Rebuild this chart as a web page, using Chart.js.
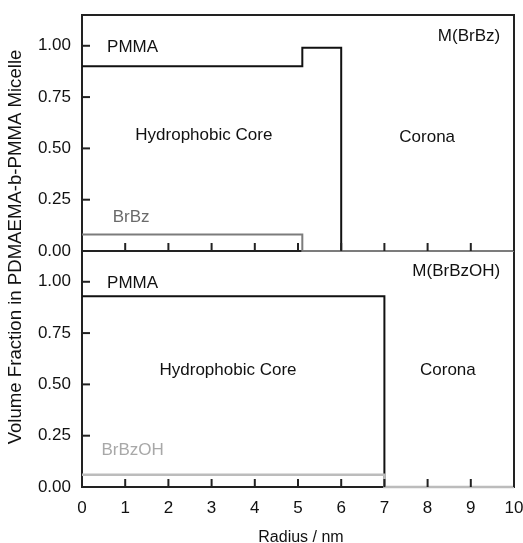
<!DOCTYPE html>
<html><head><meta charset="utf-8">
<script src="https://cdn.jsdelivr.net/npm/chart.js@4/dist/chart.umd.min.js"></script>
<style>html,body{margin:0;padding:0;background:#fff;}canvas{display:block;}</style>
</head><body>
<canvas id="c" width="523" height="543"></canvas>
<script>
// ---- data ----
const xTicks = [0, 1, 2, 3, 4, 5, 6, 7, 8, 9, 10];
const yTicks = [0, 0.25, 0.5, 0.75, 1.0];
// Top panel: M(BrBz)
const pmmaTopR = [0, 5.1, 6.0];
const pmmaTopV = [0.90, 0.99, 0];
const brbzR = [0, 5.1, 10];
const brbzV = [0.08, 0, 0];
// Bottom panel: M(BrBzOH)
const pmmaBotR = [0, 7.0];
const pmmaBotV = [0.93, 0];
const brbzohR = [0, 7.0, 10];
const brbzohV = [0.06, 0, 0];
// text labels (data coordinates, cap-centre)
const notesTop = [
  {text: 'PMMA', x: 0.58, y: 1.0, align: 'left', color: '#111'},
  {text: 'BrBz', x: 0.71, y: 0.17, align: 'left', color: '#6a6a6a'},
  {text: 'Hydrophobic Core', x: 2.82, y: 0.57, align: 'center', color: '#111'},
  {text: 'Corona', x: 7.99, y: 0.56, align: 'center', color: '#111'},
  {text: 'M(BrBz)', x: 9.68, y: 1.055, align: 'right', color: '#111'}
];
const notesBot = [
  {text: 'PMMA', x: 0.58, y: 1.0, align: 'left', color: '#111'},
  {text: 'BrBzOH', x: 0.45, y: 0.184, align: 'left', color: '#a8a8a8'},
  {text: 'Hydrophobic Core', x: 3.38, y: 0.573, align: 'center', color: '#111'},
  {text: 'Corona', x: 8.47, y: 0.573, align: 'center', color: '#111'},
  {text: 'M(BrBzOH)', x: 9.68, y: 1.06, align: 'right', color: '#111'}
];
const xTitle = 'Radius / nm';
const yTitle = 'Volume Fraction in PDMAEMA-b-PMMA Micelle';

const FONT = '"Liberation Sans", Arial, sans-serif';
const pts = (xs, ys) => xs.map((x, i) => ({x: x, y: ys[i]}));

const framePlugin = {
  id: 'frame',
  beforeDatasetsDraw(chart) {
    const {ctx, chartArea: a} = chart;
    const yT = chart.scales.yTop;
    ctx.save();
    ctx.strokeStyle = '#222';
    ctx.lineWidth = 2;
    ctx.strokeRect(a.left, a.top, a.right - a.left, a.bottom - a.top);
    const my = yT.getPixelForValue(0);
    ctx.beginPath(); ctx.moveTo(a.left, my); ctx.lineTo(a.right, my); ctx.stroke();
    ctx.restore();
  },
  afterDatasetsDraw(chart) {
    const {ctx, chartArea: a} = chart;
    const xs = chart.scales.x, yT = chart.scales.yTop, yB = chart.scales.yBot;
    ctx.save();
    ctx.strokeStyle = '#222';
    ctx.lineWidth = 2;
    // inward y ticks
    [yT, yB].forEach(s => {
      yTicks.forEach(v => {
        const py = s.getPixelForValue(v);
        ctx.beginPath(); ctx.moveTo(a.left, py); ctx.lineTo(a.left + 8, py); ctx.stroke();
      });
    });
    // inward x ticks on both panels
    [yT, yB].forEach(s => {
      const base = s.getPixelForValue(0);
      xTicks.forEach(v => {
        const px = xs.getPixelForValue(v);
        ctx.beginPath(); ctx.moveTo(px, base); ctx.lineTo(px, base - 8); ctx.stroke();
      });
    });
    // annotations
    const fs = 17;
    ctx.font = fs + 'px ' + FONT;
    ctx.textBaseline = 'alphabetic';
    [[notesTop, yT], [notesBot, yB]].forEach(([list, s]) => {
      list.forEach(n => {
        ctx.fillStyle = n.color;
        ctx.textAlign = n.align;
        ctx.fillText(n.text, xs.getPixelForValue(n.x), s.getPixelForValue(n.y) + 0.358 * fs);
      });
    });
    // axis titles
    ctx.fillStyle = '#111';
    ctx.textAlign = 'center';
    ctx.font = '16px ' + FONT;
    ctx.fillText(xTitle, (a.left + a.right) / 2 + 3, 542);
    ctx.save();
    ctx.translate(16, (a.top + a.bottom) / 2 - 4);
    ctx.rotate(-Math.PI / 2);
    ctx.font = '18.6px ' + FONT;
    ctx.textBaseline = 'middle';
    ctx.fillText(yTitle, 0, 0);
    ctx.restore();
    ctx.restore();
  }
};

const yScale = () => ({
  type: 'linear', position: 'left', stack: 'panels', stackWeight: 1,
  min: 0, max: 1.15,
  grid: {display: false}, border: {display: false},
  ticks: {padding: 3, color: '#111', font: {family: FONT, size: 17}, callback: v => Number(v).toFixed(2)},
  afterBuildTicks: s => { s.ticks = yTicks.map(v => ({value: v})); },
  afterFit: s => { s.width = 82; s.paddingTop = 0; s.paddingBottom = 0; }
});

const lineDs = (label, data, axis, color, width) => ({
  label: label, data: data, yAxisID: axis, borderColor: color, borderWidth: width,
  stepped: 'before', pointRadius: 0, fill: false, clip: false, tension: 0,
  borderJoinStyle: 'miter', borderCapStyle: 'butt'
});

new Chart(document.getElementById('c'), {
  type: 'line',
  data: {
    datasets: [
      lineDs('BrBz', pts(brbzR, brbzV), 'yTop', '#7c7c7c', 2),
      lineDs('BrBzOH', pts(brbzohR, brbzohV), 'yBot', '#bcbcbc', 2.5),
      lineDs('PMMA (BrBz)', pts(pmmaTopR, pmmaTopV), 'yTop', '#111', 2),
      lineDs('PMMA (BrBzOH)', pts(pmmaBotR, pmmaBotV), 'yBot', '#111', 2)
    ]
  },
  options: {
    responsive: false, animation: false, devicePixelRatio: 1,
    layout: {padding: {top: 15, right: 9, left: 0, bottom: 0}},
    plugins: {legend: {display: false}, tooltip: {enabled: false}},
    scales: {
      x: {
        type: 'linear', position: 'bottom', min: 0, max: 10,
        grid: {display: false}, border: {display: false},
        ticks: {padding: 3, color: '#111', font: {family: FONT, size: 17}, maxRotation: 0, autoSkip: false},
        afterBuildTicks: s => { s.ticks = xTicks.map(v => ({value: v})); },
        afterFit: s => { s.height = 56; s.paddingLeft = 0; s.paddingRight = 0; }
      },
      yBot: yScale(),
      yTop: yScale()
    }
  },
  plugins: [framePlugin]
});
</script>
</body></html>
